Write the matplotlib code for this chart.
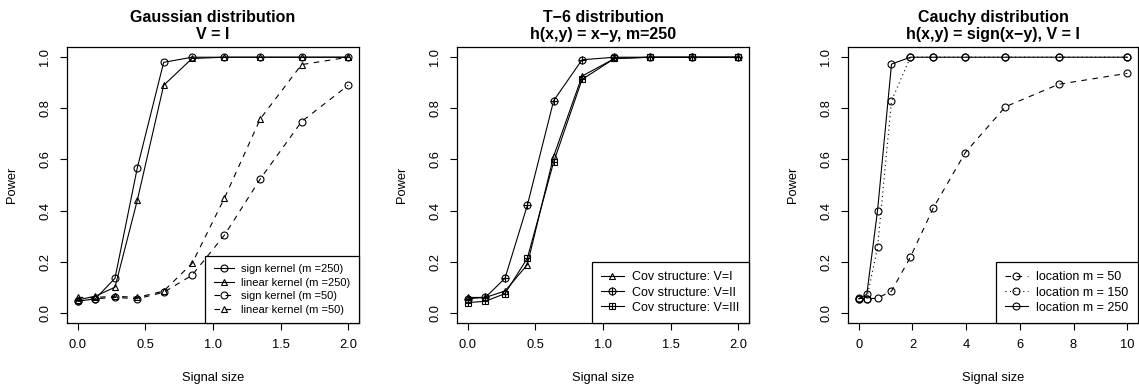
import matplotlib
matplotlib.use("Agg")
import matplotlib.pyplot as plt

plt.rcParams['font.family'] = ['Liberation Sans', 'DejaVu Sans']

# --- data ---
signal_a = [0.0, 0.13, 0.275, 0.44, 0.635, 0.845, 1.085, 1.35, 1.655, 2.0]
sign_250 = [0.045, 0.055, 0.135, 0.567, 0.98, 1.0, 1.0, 1.0, 1.0, 1.0]
linear_250 = [0.05, 0.065, 0.10, 0.44, 0.89, 0.995, 1.0, 1.0, 1.0, 1.0]
sign_50 = [0.045, 0.055, 0.06, 0.055, 0.08, 0.147, 0.304, 0.524, 0.748, 0.89]
linear_50 = [0.06, 0.06, 0.065, 0.06, 0.085, 0.193, 0.449, 0.759, 0.971, 1.0]

cov_I = [0.06, 0.06, 0.085, 0.188, 0.613, 0.926, 0.995, 1.0, 1.0, 1.0]
cov_II = [0.055, 0.06, 0.135, 0.42, 0.83, 0.99, 1.0, 1.0, 1.0, 1.0]
cov_III = [0.04, 0.045, 0.075, 0.213, 0.59, 0.913, 0.995, 1.0, 1.0, 1.0]

signal_c = [0.0, 0.3, 0.7, 1.22, 1.92, 2.78, 3.97, 5.46, 7.44, 10.0]
loc_50 = [0.057, 0.055, 0.057, 0.085, 0.217, 0.411, 0.627, 0.806, 0.894, 0.937]
loc_150 = [0.055, 0.055, 0.256, 0.829, 1.0, 1.0, 1.0, 1.0, 1.0, 1.0]
loc_250 = [0.055, 0.072, 0.40, 0.973, 1.0, 1.0, 1.0, 1.0, 1.0, 1.0]

W, H = 1139, 387
fig = plt.figure(figsize=(W / 100, H / 100), dpi=100)

LW = 0.8
MS = 5
FS = 9.3
dashed = (0, (5, 5))
dotted = (0, (1, 3))


def make_axes(left_px, right_px, xlim, xticks, xlabels, title):
    ax = fig.add_axes([left_px / W, 1 - 323 / H, (right_px - left_px) / W, 276 / H])
    ax.set_xlim(*xlim)
    ax.set_ylim(-0.04, 1.04)
    ax.set_xticks(xticks)
    ax.set_xticklabels(xlabels)
    ax.set_yticks([0.0, 0.2, 0.4, 0.6, 0.8, 1.0])
    ax.set_yticklabels(["0.0", "0.2", "0.4", "0.6", "0.8", "1.0"], rotation=90, va="center")
    ax.tick_params(direction="out", length=5, width=0.8, labelsize=FS, pad=6.5)
    for s in ax.spines.values():
        s.set_linewidth(0.9)
    ax.set_xlabel("Signal size", fontsize=FS, va="center")
    ax.set_ylabel("Power", fontsize=FS, va="center")
    ax.xaxis.set_label_coords(0.5, -55 / 276)
    ax.yaxis.set_label_coords(-55 / (right_px - left_px), 0.5)
    ax.set_title(title, fontsize=11.5, fontweight="bold", linespacing=1.1, pad=6)
    return ax


def series(ax, x, y, ls, marker, label):
    return ax.plot(x, y, color="black", lw=LW, ls=ls, marker=marker, ms=MS,
                   mfc="none", mec="black", mew=0.8, label=label)[0]


def legend(ax, handles, labels, fs, spacing):
    lg = ax.legend(handles, labels, loc="lower right", borderaxespad=0, fontsize=fs,
                   frameon=True, fancybox=False, edgecolor="black", framealpha=1,
                   handlelength=1.8, handletextpad=0.7, labelspacing=spacing,
                   borderpad=0.75)
    lg.get_frame().set_linewidth(0.9)
    return lg


# Panel 1
ax1 = make_axes(67, 359, (-0.08, 2.08), [0.0, 0.5, 1.0, 1.5, 2.0],
                ["0.0", "0.5", "1.0", "1.5", "2.0"], "Gaussian distribution\nV = I")
h1 = series(ax1, signal_a, sign_250, "-", "o", "sign kernel (m =250)")
h2 = series(ax1, signal_a, linear_250, "-", "^", "linear kernel (m =250)")
h3 = series(ax1, signal_a, sign_50, dashed, "o", "sign kernel (m =50)")
h4 = series(ax1, signal_a, linear_50, dashed, "^", "linear kernel (m =50)")
legend(ax1, [h1, h2, h3, h4], [h.get_label() for h in (h1, h2, h3, h4)], 8, 0.32)

# Panel 2
ax2 = make_axes(457, 749, (-0.08, 2.08), [0.0, 0.5, 1.0, 1.5, 2.0],
                ["0.0", "0.5", "1.0", "1.5", "2.0"],
                "T\u22126 distribution\nh(x,y) = x\u2212y, m=250")
g1 = series(ax2, signal_a, cov_I, "-", "^", "Cov structure: V=I")
g2 = series(ax2, signal_a, cov_II, "-", "o", "Cov structure: V=II")
g2p = ax2.plot(signal_a, cov_II, ls="none", marker="+", ms=MS + 1, mec="black", mew=0.8)[0]
g3 = series(ax2, signal_a, cov_III, "-", "s", "Cov structure: V=III")
g3p = ax2.plot(signal_a, cov_III, ls="none", marker="+", ms=MS, mec="black", mew=0.8)[0]
legend(ax2, [g1, (g2, g2p), (g3, g3p)],
       ["Cov structure: V=I", "Cov structure: V=II", "Cov structure: V=III"], 9, 0.25)

# Panel 3
ax3 = make_axes(848, 1138, (-0.4, 10.4), [0, 2, 4, 6, 8, 10],
                ["0", "2", "4", "6", "8", "10"],
                "Cauchy distribution\nh(x,y) = sign(x\u2212y), V = I")
k1 = series(ax3, signal_c, loc_50, dashed, "o", "location m = 50")
k2 = series(ax3, signal_c, loc_150, dotted, "o", "location m = 150")
k3 = series(ax3, signal_c, loc_250, "-", "o", "location m = 250")
legend(ax3, [k1, k2, k3], [k.get_label() for k in (k1, k2, k3)], 9, 0.25)

fig.savefig("out.png", dpi=100)
